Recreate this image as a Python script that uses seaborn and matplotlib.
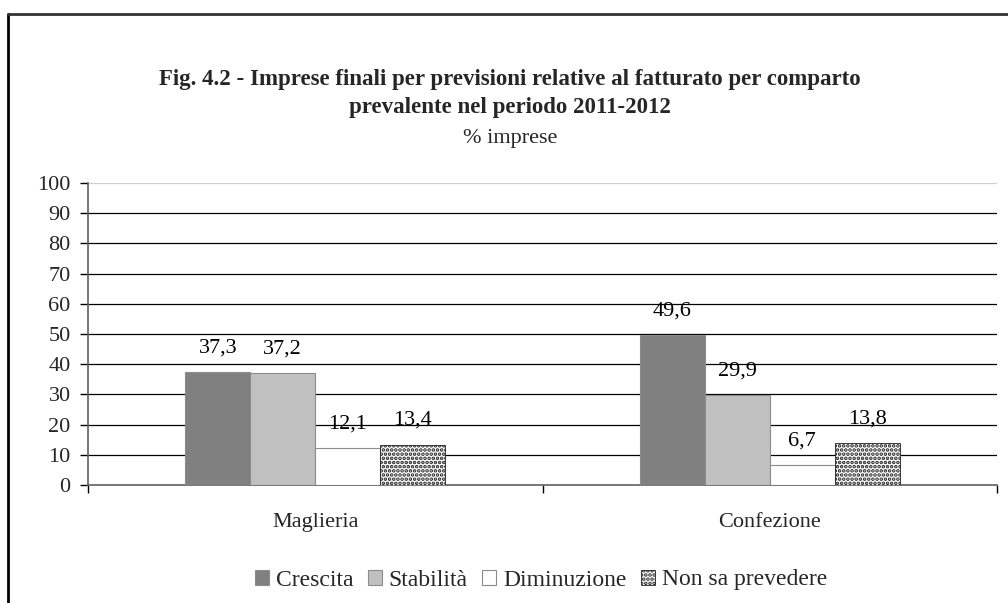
import matplotlib
matplotlib.use("Agg")
import matplotlib.pyplot as plt
import matplotlib.patches as mpatches
from matplotlib.lines import Line2D
import seaborn as sns
import pandas as pd

# Data
categories = ["Maglieria", "Confezione"]
series = ["Crescita", "Stabilità", "Diminuzione", "Non sa prevedere"]
crescita = [37.3, 49.6]
stabilita = [37.2, 29.9]
diminuzione = [12.1, 6.7]
non_sa = [13.4, 13.8]
y_ticks = list(range(0, 101, 10))

colors = ["#808080", "#c0c0c0", "#ffffff", "#ffffff"]

# long table for seaborn
rows = []
for s, vals in zip(series, [crescita, stabilita, diminuzione, non_sa]):
    for c, v in zip(categories, vals):
        rows.append({"comparto": c, "previsione": s, "valore": v})
df = pd.DataFrame(rows)

sns.set_theme(style="white")
plt.rcParams["font.family"] = ["Liberation Serif", "DejaVu Serif"]
plt.rcParams["hatch.linewidth"] = 1.8

FS = 16

fig = plt.figure(figsize=(10.08, 6.03), dpi=100)
ax = fig.add_axes([88 / 1008, 1 - 485 / 603, (997 - 88) / 1008, (485 - 183) / 603])

sns.barplot(data=df, x="comparto", y="valore", hue="previsione",
            hue_order=series, order=categories, palette=colors,
            width=0.572, gap=0, edgecolor="#8c8c8c", linewidth=0.8,
            legend=False, ax=ax, zorder=3)

# dotted pattern for "Non sa prevedere"
for bar in ax.containers[3]:
    bar.set_hatch("....")
    bar.set_edgecolor("#202020")
    bar.set_linewidth(0.6)

# value labels with comma decimals
for cont, vals in zip(ax.containers, [crescita, stabilita, diminuzione, non_sa]):
    ax.bar_label(cont, labels=[f"{v:.1f}".replace(".", ",") for v in vals],
                 padding=10.5, fontsize=FS, color="black")

ax.set_ylim(0, 100)
ax.set_yticks(y_ticks)
ax.set_xlim(-0.5, 1.5)
ax.set_xticks([-0.5, 0.5, 1.5])
ax.set_xticklabels([])
ax.set_xticks([0, 1], minor=True)
ax.set_xticklabels(categories, minor=True, fontsize=FS)
ax.tick_params(axis="x", which="major", direction="out", length=5.5, width=1, color="black", bottom=True)
ax.tick_params(axis="x", which="minor", length=0, pad=20)
ax.tick_params(axis="y", direction="out", length=5.5, width=1, color="black", left=True, labelsize=FS, pad=7)
ax.set_xlabel("")
ax.set_ylabel("")

# gridlines
for t in y_ticks[1:]:
    ax.axhline(t, color="#d0d0d0" if t == 100 else "black", lw=0.9, zorder=1)

for side in ["top", "right"]:
    ax.spines[side].set_visible(False)
for side in ["left", "bottom"]:
    ax.spines[side].set_color("#606060")
    ax.spines[side].set_linewidth(1.2)

# titles
fig.text(510 / 1008, 1 - 80 / 603, "Fig. 4.2 - Imprese finali per previsioni relative al fatturato per comparto",
         ha="center", va="center", fontsize=16.5, fontweight="bold")
fig.text(510 / 1008, 1 - 108 / 603, "prevalente nel periodo 2011-2012",
         ha="center", va="center", fontsize=16.5, fontweight="bold")
fig.text(510 / 1008, 1 - 139 / 603, "% imprese", ha="center", va="center", fontsize=FS)

# legend
handles = []
for s, c in zip(series, colors):
    p = mpatches.Patch(facecolor=c, edgecolor="#8c8c8c", lw=0.8, label=s)
    if s == "Non sa prevedere":
        p = mpatches.Patch(facecolor="white", edgecolor="#202020", hatch="....", lw=0.6, label=s)
    handles.append(p)
fig.legend(handles=handles, loc="center", bbox_to_anchor=(541 / 1008, 1 - 580 / 603),
           ncol=4, frameon=False, fontsize=17, handlelength=0.6, handleheight=0.6,
           handletextpad=0.3, columnspacing=0.6)

# outer frame
fig.add_artist(Line2D([8 / 1008, 8 / 1008], [0, 1 - 14 / 603], transform=fig.transFigure, color="black", lw=2))
fig.add_artist(Line2D([8 / 1008, 1], [1 - 14 / 603, 1 - 14 / 603], transform=fig.transFigure, color="#333333", lw=2))

fig.savefig("out.png", dpi=100)
